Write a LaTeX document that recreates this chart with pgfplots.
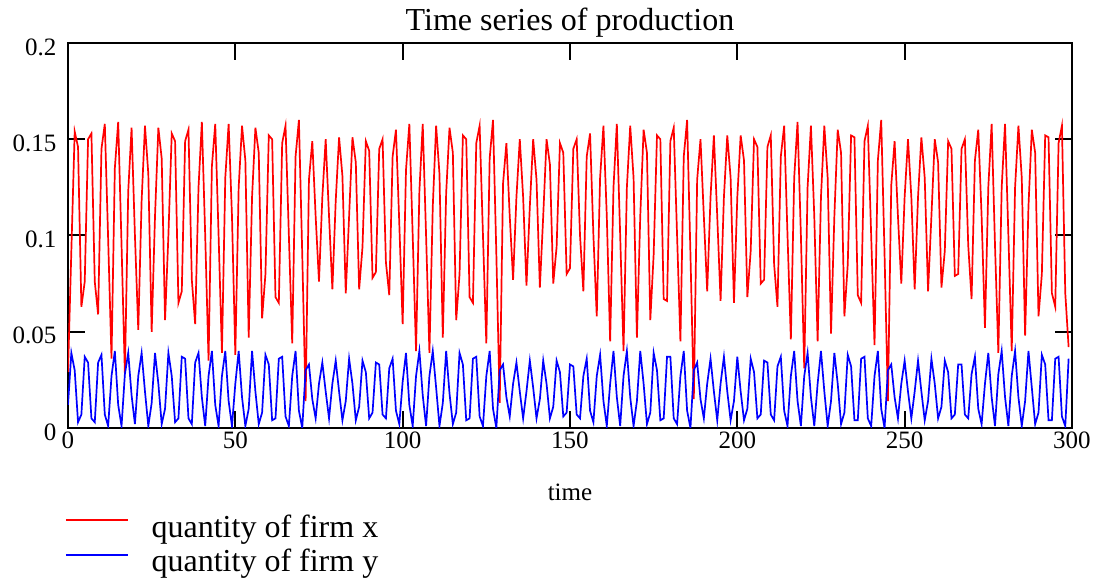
\documentclass[border=0pt]{standalone}
\usepackage{fontspec}
\setmainfont{Liberation Serif}
\usepackage{pgfplots}
\usepackage{pgfplotstable}
\pgfplotsset{compat=1.18}
\pgfplotstableread{
t r b
0 0.029 0.012
1 0.092 0.039
2 0.154 0.030
3 0.146 0.003
4 0.063 0.007
5 0.076 0.037
6 0.150 0.034
7 0.153 0.005
8 0.076 0.003
9 0.059 0.034
10 0.145 0.038
11 0.158 0.007
12 0.098 0.001
13 0.036 0.027
14 0.135 0.040
15 0.159 0.012
16 0.095 0.001
17 0.028 0.028
18 0.123 0.039
19 0.156 0.017
20 0.100 0.002
21 0.051 0.027
22 0.118 0.039
23 0.157 0.019
24 0.132 0.001
25 0.050 0.013
26 0.110 0.039
27 0.156 0.023
28 0.140 0.002
29 0.056 0.010
30 0.100 0.039
31 0.153 0.027
32 0.149 0.003
33 0.065 0.005
34 0.071 0.037
35 0.149 0.036
36 0.155 0.005
37 0.077 0.002
38 0.054 0.034
39 0.125 0.039
40 0.159 0.016
41 0.100 0.001
42 0.035 0.027
43 0.136 0.040
44 0.158 0.012
45 0.100 0.001
46 0.039 0.027
47 0.130 0.040
48 0.158 0.014
49 0.110 0.001
50 0.038 0.023
51 0.125 0.040
52 0.157 0.016
53 0.139 0.001
54 0.047 0.010
55 0.120 0.040
56 0.156 0.019
57 0.143 0.002
58 0.057 0.008
59 0.080 0.038
60 0.152 0.033
61 0.150 0.004
62 0.068 0.005
63 0.065 0.036
64 0.148 0.037
65 0.157 0.006
66 0.100 0.001
67 0.044 0.027
68 0.141 0.040
69 0.160 0.009
70 0.090 0.000
71 0.014 0.030
72 0.129 0.033
73 0.149 0.015
74 0.110 0.005
75 0.076 0.023
76 0.120 0.034
77 0.150 0.019
78 0.110 0.005
79 0.072 0.023
80 0.118 0.035
81 0.151 0.019
82 0.131 0.004
83 0.070 0.014
84 0.110 0.036
85 0.151 0.023
86 0.138 0.004
87 0.072 0.011
88 0.094 0.035
89 0.149 0.029
90 0.144 0.005
91 0.078 0.008
92 0.081 0.034
93 0.145 0.033
94 0.150 0.007
95 0.086 0.005
96 0.069 0.031
97 0.141 0.036
98 0.155 0.009
99 0.106 0.002
100 0.054 0.024
101 0.134 0.039
102 0.158 0.012
103 0.100 0.001
104 0.040 0.027
105 0.123 0.040
106 0.158 0.017
107 0.100 0.001
108 0.039 0.027
109 0.115 0.040
110 0.157 0.021
111 0.132 0.001
112 0.047 0.013
113 0.122 0.040
114 0.156 0.018
115 0.143 0.002
116 0.056 0.008
117 0.080 0.039
118 0.152 0.033
119 0.150 0.004
120 0.068 0.005
121 0.065 0.036
122 0.148 0.037
123 0.157 0.006
124 0.100 0.001
125 0.044 0.027
126 0.140 0.040
127 0.160 0.010
128 0.090 0.000
129 0.013 0.030
130 0.127 0.033
131 0.148 0.016
132 0.110 0.006
133 0.077 0.023
134 0.120 0.034
135 0.150 0.019
136 0.120 0.005
137 0.074 0.019
138 0.115 0.035
139 0.150 0.021
140 0.129 0.005
141 0.073 0.015
142 0.110 0.035
143 0.150 0.023
144 0.137 0.005
145 0.075 0.011
146 0.094 0.035
147 0.148 0.029
148 0.143 0.006
149 0.080 0.008
150 0.083 0.033
151 0.145 0.032
152 0.150 0.007
153 0.100 0.005
154 0.071 0.027
155 0.141 0.036
156 0.153 0.009
157 0.100 0.003
158 0.058 0.027
159 0.130 0.038
160 0.157 0.014
161 0.110 0.001
162 0.045 0.023
163 0.125 0.040
164 0.158 0.016
165 0.100 0.001
166 0.040 0.027
167 0.125 0.040
168 0.157 0.016
169 0.130 0.001
170 0.047 0.014
171 0.110 0.040
172 0.155 0.023
173 0.143 0.002
174 0.056 0.008
175 0.090 0.039
176 0.152 0.030
177 0.150 0.004
178 0.067 0.005
179 0.066 0.037
180 0.149 0.037
181 0.156 0.005
182 0.100 0.002
183 0.045 0.027
184 0.141 0.040
185 0.160 0.009
186 0.090 0.000
187 0.015 0.030
188 0.129 0.034
189 0.150 0.015
190 0.110 0.005
191 0.071 0.023
192 0.120 0.036
193 0.152 0.019
194 0.110 0.004
195 0.066 0.023
196 0.120 0.037
197 0.152 0.019
198 0.130 0.004
199 0.065 0.014
200 0.120 0.037
201 0.152 0.019
202 0.139 0.004
203 0.068 0.010
204 0.092 0.036
205 0.150 0.029
206 0.146 0.005
207 0.075 0.007
208 0.077 0.035
209 0.146 0.034
210 0.152 0.007
211 0.085 0.004
212 0.063 0.032
213 0.141 0.037
214 0.157 0.009
215 0.100 0.001
216 0.046 0.027
217 0.130 0.040
218 0.159 0.014
219 0.100 0.001
220 0.031 0.027
221 0.125 0.039
222 0.157 0.016
223 0.110 0.001
224 0.045 0.023
225 0.120 0.040
226 0.157 0.019
227 0.130 0.001
228 0.049 0.014
229 0.110 0.039
230 0.155 0.023
231 0.143 0.002
232 0.058 0.008
233 0.085 0.038
234 0.152 0.032
235 0.151 0.004
236 0.069 0.004
237 0.065 0.036
238 0.149 0.037
239 0.157 0.005
240 0.100 0.001
241 0.043 0.027
242 0.139 0.040
243 0.160 0.010
244 0.090 0.000
245 0.014 0.030
246 0.126 0.033
247 0.149 0.016
248 0.110 0.005
249 0.075 0.023
250 0.120 0.035
251 0.150 0.019
252 0.120 0.005
253 0.072 0.019
254 0.120 0.035
255 0.151 0.019
256 0.130 0.004
257 0.071 0.014
258 0.110 0.036
259 0.150 0.023
260 0.138 0.005
261 0.073 0.011
262 0.092 0.035
263 0.149 0.029
264 0.145 0.005
265 0.079 0.007
266 0.080 0.033
267 0.145 0.033
268 0.150 0.007
269 0.095 0.005
270 0.067 0.028
271 0.139 0.037
272 0.155 0.010
273 0.110 0.002
274 0.052 0.023
275 0.125 0.039
276 0.158 0.016
277 0.095 0.001
278 0.039 0.028
279 0.125 0.040
280 0.158 0.016
281 0.100 0.001
282 0.040 0.027
283 0.125 0.040
284 0.157 0.016
285 0.130 0.001
286 0.048 0.014
287 0.115 0.040
288 0.155 0.021
289 0.143 0.002
290 0.058 0.008
291 0.080 0.038
292 0.152 0.033
293 0.151 0.004
294 0.070 0.004
295 0.063 0.036
296 0.148 0.037
297 0.157 0.006
298 0.070 0.001
299 0.042 0.036
}\data
\begin{document}
\begin{tikzpicture}
\begin{axis}[
  scale only axis, width=1004pt, height=385pt,
  xmin=0, xmax=300, ymin=0, ymax=0.2,
  xtick={0,50,100,150,200,250,300},
  ytick={0,0.05,0.1,0.15,0.2},
  scaled y ticks=false,
  /pgf/number format/assume math mode=true,
  yticklabel style={/pgf/number format/fixed, /pgf/number format/precision=2, xshift=-8pt, yshift=-4pt},
  tick align=inside, major tick length=17pt,
  every tick/.style={black, line width=2pt},
  axis line style={line width=2pt},
  tick label style={font=\fontsize{25}{29}\selectfont},
  title={Time series of production},
  title style={font=\fontsize{32}{36}\selectfont, at={(axis description cs:0.5,1)}, anchor=base, yshift=6pt},
  xlabel={time},
  xlabel style={font=\fontsize{25}{28}\selectfont, at={(axis description cs:0.5,0)}, anchor=center, yshift=-64pt},
  legend style={at={(axis description cs:-0.003,-0.2234)}, anchor=north west, draw=none, fill=none,
    inner sep=0pt, outer sep=0pt, row sep=0pt, column sep=0pt,
    font=\fontsize{32}{34.5}\selectfont,
    nodes={inner sep=0pt, text height=23pt, text depth=11.5pt}},
  legend cell align=left,
  legend image code/.code={\draw[#1, line width=1.6pt] (0pt,11pt) -- (62pt,11pt); \path (85pt,11pt);},
]
\addplot[red, line width=1.7pt] table[x=t, y=r]{\data};
\addlegendentry{quantity of firm x}
\addplot[blue, line width=1.7pt] table[x=t, y=b]{\data};
\addlegendentry{quantity of firm y}
\end{axis}
\pgfresetboundingbox
\path[use as bounding box] (-68pt,-155pt) rectangle (1028pt,428pt);
\end{tikzpicture}
\end{document}
